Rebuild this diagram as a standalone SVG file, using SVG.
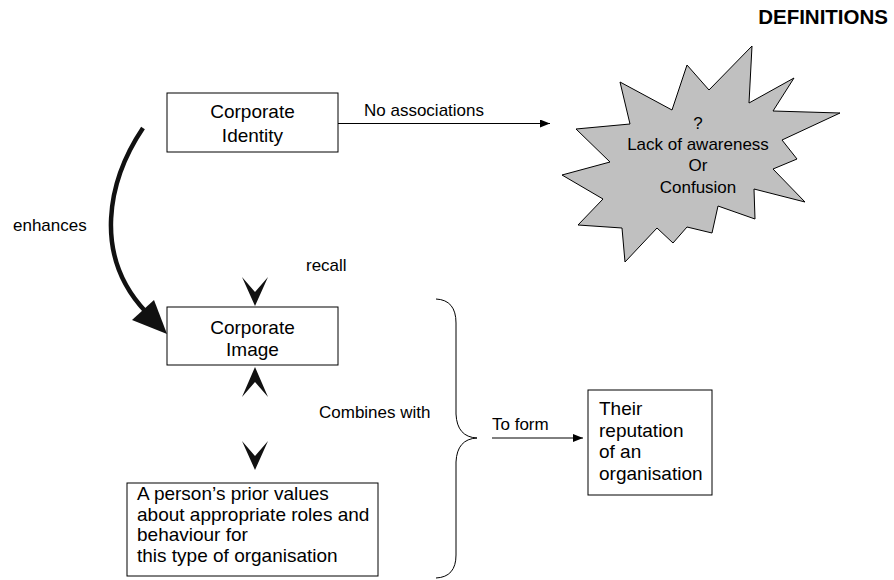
<svg xmlns="http://www.w3.org/2000/svg" width="894" height="580" viewBox="0 0 894 580">
<style>
.box{fill:#fff;stroke:#000;stroke-width:1}
.bt{font-family:"Liberation Sans",Arial,sans-serif;font-size:19px;fill:#000}
.lb{font-family:"Liberation Sans",Arial,sans-serif;font-size:17px;fill:#000}
.ln{fill:none;stroke:#000;stroke-width:1}
.chev{fill:#111;stroke:none}
</style>
<defs>
<marker id="ah" markerWidth="10" markerHeight="8" refX="10" refY="4" orient="auto" markerUnits="userSpaceOnUse">
<path d="M0,0 L10,4 L0,8 Z" fill="#000"/>
</marker>
</defs>
<rect width="894" height="580" fill="#fff"/>
<text x="888" y="24" text-anchor="end" font-family="Liberation Sans,Arial,sans-serif" font-size="20.5" font-weight="bold">DEFINITIONS</text>

<g id="corporate-identity">
<rect class="box" x="167" y="93" width="171" height="59"/>
<text class="bt" x="252.5" y="118" text-anchor="middle">Corporate</text>
<text class="bt" x="252.5" y="142" text-anchor="middle">Identity</text>
</g>

<g id="lack-of-awareness">
<polygon points="576,129 630,124 620,82 672,110 687,65 709,90 752,46 749,103 794,78 773,111 840,113 782,140 797,159 773,169 805,202 754,189 755,219 718,206 712,233 687,227 673,243 657,228 625,262 622,228 578,225 603,199 562,175 610,162" fill="#c0c0c0" stroke="#000" stroke-width="1"/>
<text class="lb" x="698" y="129" text-anchor="middle">?</text>
<text class="lb" x="698" y="150" text-anchor="middle">Lack of awareness</text>
<text class="lb" x="698" y="171" text-anchor="middle">Or</text>
<text class="lb" x="698" y="193" text-anchor="middle">Confusion</text>
</g>

<g id="corporate-image">
<rect class="box" x="167" y="307" width="171" height="58"/>
<text class="bt" x="252.5" y="334" text-anchor="middle">Corporate</text>
<text class="bt" x="252.5" y="356" text-anchor="middle">Image</text>
</g>

<g id="prior-values">
<rect class="box" x="127" y="483" width="251" height="93"/>
<text class="bt" x="137" y="500">A person’s prior values</text>
<text class="bt" x="137" y="521">about appropriate roles and</text>
<text class="bt" x="137" y="541">behaviour for</text>
<text class="bt" x="137" y="562">this type of organisation</text>
</g>

<g id="reputation">
<rect class="box" x="588" y="390" width="124" height="105"/>
<text class="bt" x="599" y="415">Their</text>
<text class="bt" x="599" y="437">reputation</text>
<text class="bt" x="599" y="458">of an</text>
<text class="bt" x="599" y="480">organisation</text>
</g>

<g id="connectors">
<line class="ln" x1="338" y1="123.5" x2="550" y2="123.5" marker-end="url(#ah)"/>
<text class="lb" x="364" y="116">No associations</text>

<path d="M143,128 C108,180 92,255 146,312" fill="none" stroke="#111" stroke-width="4.5"/>
<polygon points="167,334 132,320 154,300" fill="#111"/>
<text class="lb" x="13" y="231">enhances</text>

<text class="lb" x="306" y="271">recall</text>
<polygon class="chev" points="242,277 255,292 268,277 255,306"/>
<polygon class="chev" points="242,397 255,382 268,397 255,367"/>
<polygon class="chev" points="242,441 255,456 268,441 255,470"/>

<text class="lb" x="319" y="418">Combines with</text>
<path class="ln" d="M436,299 Q456,300 456,323 L456,414 Q457,437 477,438 Q457,439 456,462 L456,555 Q456,577 436,578"/>

<line class="ln" x1="492" y1="438" x2="583" y2="438" marker-end="url(#ah)"/>
<text class="lb" x="492" y="430">To form</text>
</g>
</svg>
